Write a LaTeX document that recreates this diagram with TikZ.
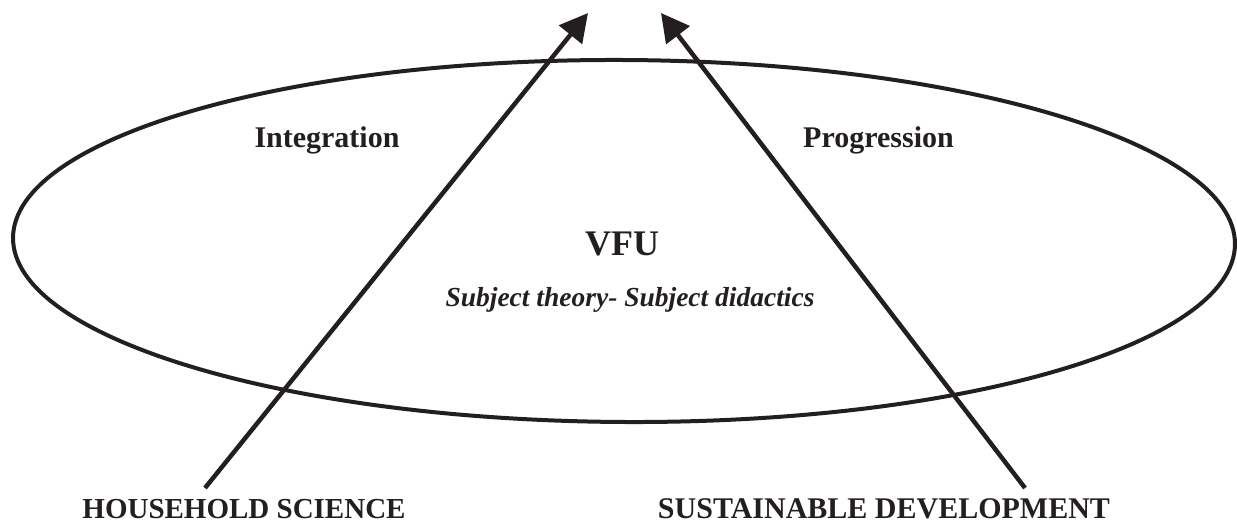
\documentclass[tikz,border=0pt]{standalone}
\usepackage{fontspec}
\setmainfont{Liberation Serif}
\usetikzlibrary{arrows.meta}
\definecolor{ink}{RGB}{35,31,32}
\tikzset{
  ring/.style={draw=ink, line width=4pt},
  pointer/.style={draw=ink, line width=4.5pt, -{Triangle[length=28pt,width=29pt]}},
  lbl/.style={anchor=base, inner sep=0pt, text=ink, font=\bfseries\fontsize{30}{34}\selectfont},
}
\begin{document}
\begin{tikzpicture}[x=1pt,y=-1pt]
\useasboundingbox (0,0) rectangle (1237,524);
\draw[ring, rotate around={-0.3:(624,241)}] (624,241) ellipse [x radius=611, y radius=181];
\node[lbl] (integ) at (327,148) {Integration};
\node[lbl] (prog) at (878.5,148) {Progression};
\node[anchor=base, inner sep=0pt, text=ink, font=\bfseries\fontsize{36}{40}\selectfont] (vfu) at (622,255) {VFU};
\node[anchor=base, inner sep=0pt, text=ink, font=\bfseries\itshape\fontsize{27.5}{32}\selectfont] (subj) at (630,306) {Subject theory- Subject didactics};
\node[lbl, font=\bfseries\fontsize{29}{34}\selectfont] (hs) at (244,518) {HOUSEHOLD SCIENCE};
\node[lbl] (sd) at (884,518) {SUSTAINABLE DEVELOPMENT};
\coordinate (hstail) at (205,488);
\coordinate (hstip) at (588,13);
\coordinate (sdtail) at (1025,488);
\coordinate (sdtip) at (661,13);
\draw[pointer] (hstail) -- (hstip);
\draw[pointer] (sdtail) -- (sdtip);
\end{tikzpicture}
\end{document}
